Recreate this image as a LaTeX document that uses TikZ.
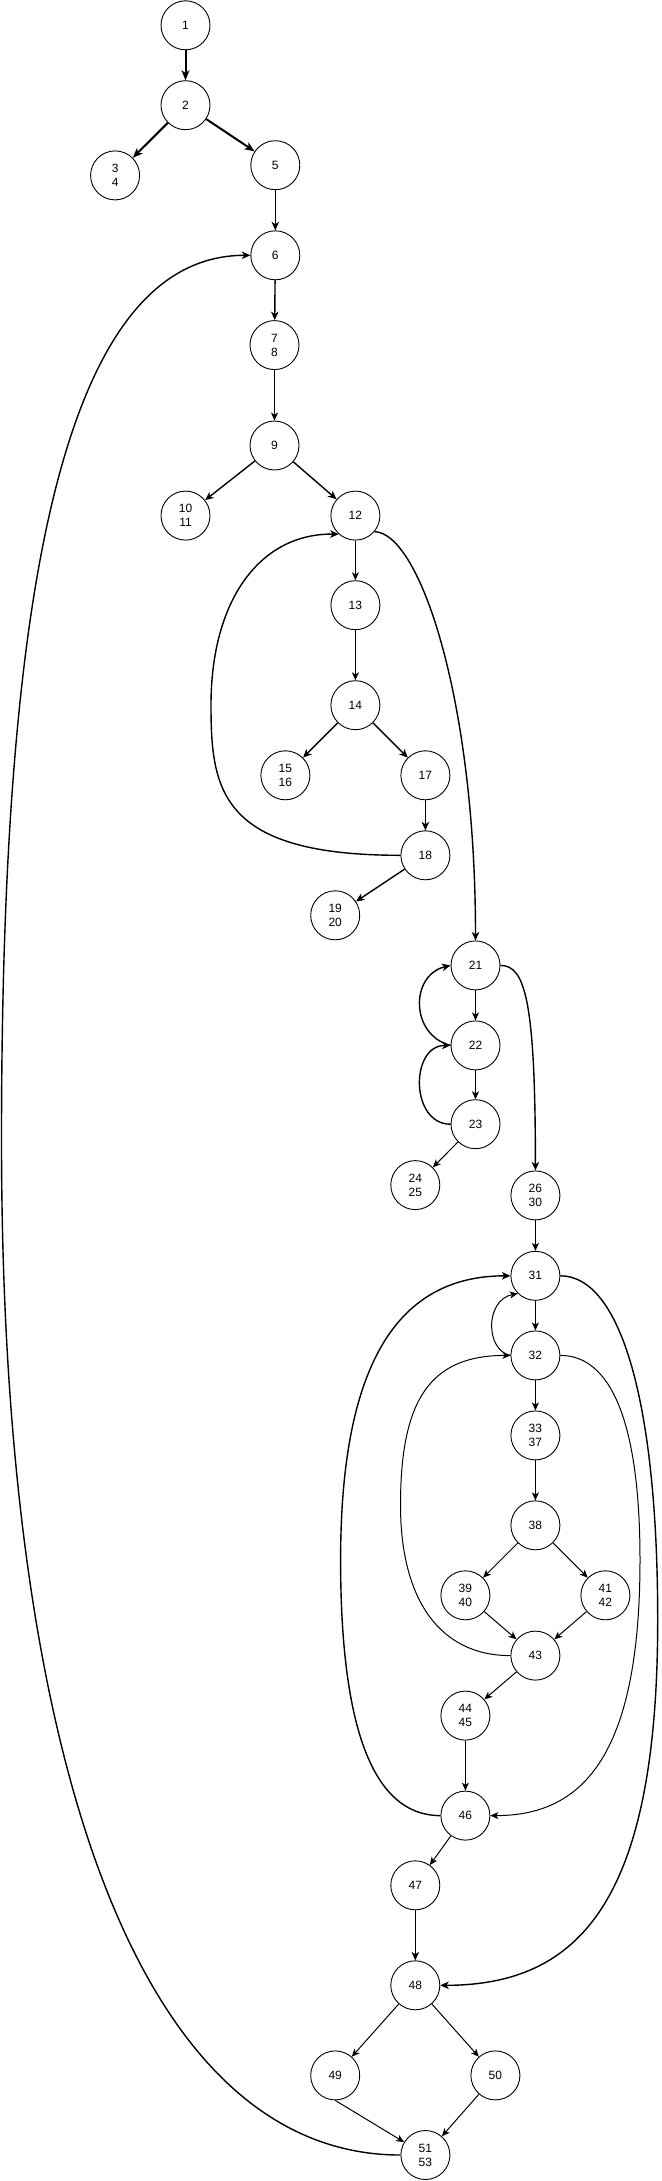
\documentclass[tikz,border=0pt]{standalone}
\usepackage{fontspec}
\setmainfont{Liberation Sans}
\usetikzlibrary{arrows.meta}
\begin{document}
\begin{tikzpicture}[x=1pt,y=-1pt,
  vtx/.style={circle,draw,line width=0.9pt,minimum size=49pt,inner sep=0pt,align=center,font=\fontsize{12}{14}\selectfont},
  arr/.style={-{Stealth[length=8pt,width=7pt,inset=2.2pt]},line width=1pt},
  arrb/.style={-{Stealth[length=8.5pt,width=7.5pt,inset=2.4pt]},line width=1.4pt},
  arrB/.style={-{Stealth[length=10pt,width=8pt,inset=2.8pt]},line width=2pt}]
\useasboundingbox (0,0) rectangle (661,2181);
\node[vtx] (n1) at (185.5,25.3) {1};
\node[vtx] (n2) at (185.5,105.2) {2};
\node[vtx] (n34) at (115.1,175.4) {3\\4};
\node[vtx] (n5) at (275.3,165.2) {5};
\node[vtx] (n6) at (275.3,255.3) {6};
\node[vtx] (n78) at (274.5,345.1) {7\\8};
\node[vtx] (n9) at (274.5,445.5) {9};
\node[vtx] (n1011) at (185.5,515.6) {10\\11};
\node[vtx] (n12) at (355.4,515.6) {12};
\node[vtx] (n13) at (355.4,605.2) {13};
\node[vtx] (n14) at (355.4,705.2) {14};
\node[vtx] (n1516) at (285.4,775.3) {15\\16};
\node[vtx] (n17) at (425.4,775.3) {17};
\node[vtx] (n18) at (425.4,855.3) {18};
\node[vtx] (n1920) at (335.2,915.3) {19\\20};
\node[vtx] (n21) at (475.5,965.4) {21};
\node[vtx] (n22) at (475.5,1045.4) {22};
\node[vtx] (n23) at (475.5,1124.2) {23};
\node[vtx] (n2425) at (415.3,1185.1) {24\\25};
\node[vtx] (n2630) at (535.4,1195.4) {26\\30};
\node[vtx] (n31) at (535.4,1275.8) {31};
\node[vtx] (n32) at (535.4,1355.4) {32};
\node[vtx] (n3337) at (535.4,1435.4) {33\\37};
\node[vtx] (n38) at (535.4,1525.3) {38};
\node[vtx] (n3940) at (465.4,1595.3) {39\\40};
\node[vtx] (n4142) at (605.4,1595.3) {41\\42};
\node[vtx] (n43) at (535.4,1655.6) {43};
\node[vtx] (n4445) at (465.4,1715.6) {44\\45};
\node[vtx] (n46) at (465.4,1815.6) {46};
\node[vtx] (n47) at (415.3,1885.3) {47};
\node[vtx] (n48) at (415.3,1985.3) {48};
\node[vtx] (n49) at (335.2,2075.4) {49};
\node[vtx] (n50) at (495.4,2075.4) {50};
\node[vtx] (n5153) at (425.4,2155.0) {51\\53};
% straight edges
\draw[arrB] (n1) -- (n2);
\draw[arrB] (n2) -- (n34);
\draw[arrB] (n2) -- (n5);
\draw[arrb] (n5) -- (n6);
\draw[arrb] (n6) -- (n78);
\draw[arr] (n78) -- (n9);
\draw[arrb] (n9) -- (n1011);
\draw[arrb] (n9) -- (n12);
\draw[arr] (n12) -- (n13);
\draw[arr] (n13) -- (n14);
\draw[arrb] (n14) -- (n1516);
\draw[arrb] (n14) -- (n17);
\draw[arrb] (n17) -- (n18);
\draw[arrb] (n18) -- (n1920);
\draw[arr] (n21) -- (n22);
\draw[arr] (n22) -- (n23);
\draw[arr] (n23) -- (n2425);
\draw[arr] (n2630) -- (n31);
\draw[arr] (n31) -- (n32);
\draw[arr] (n32) -- (n3337);
\draw[arr] (n3337) -- (n38);
\draw[arr] (n38) -- (n3940);
\draw[arr] (n38) -- (n4142);
\draw[arr] (n3940) -- (n43);
\draw[arr] (n4142) -- (n43);
\draw[arr] (n43) -- (n4445);
\draw[arr] (n4445) -- (n46);
\draw[arr] (n46) -- (n47);
\draw[arrb] (n47) -- (n48);
\draw[arr] (n48) -- (n49);
\draw[arr] (n48) -- (n50);
\draw[arr] (n49.south) -- (n5153);
\draw[arr] (n50) -- (n5153);
% curved edges
\draw[arrb] (n5153.west) .. controls (150,2155) and (1.5,1790) .. (1.5,1140) .. controls (1.5,640) and (50.8,255.3) .. (n6.west);
\draw[arrb] (n18.west) .. controls (220,855.3) and (211,790) .. (211,705) .. controls (211,600) and (260,533.3) .. (n12.-132);
\draw[arrb] (n12.-40) .. controls (420,533) and (475.5,700) .. (n21.north);
\draw[arrb] (n22.west) .. controls (410,1035) and (410,975) .. (n21.west);
\draw[arrb] (n23.west) .. controls (410,1124.2) and (410,1045.4) .. (n22.west);
\draw[arrb] (n21.east) .. controls (525,965.4) and (535.4,1000) .. (n2630.north);
\draw[arr] (n32.west) .. controls (485,1350) and (485,1300) .. (n31.south west);
\draw[arr] (n43.west) .. controls (440,1655.6) and (400.5,1600) .. (400.5,1505) .. controls (400.5,1400) and (430,1355.4) .. (n32.west);
\draw[arrb] (n46.west) .. controls (370,1815.6) and (340.6,1720) .. (340.6,1560) .. controls (340.6,1360) and (400,1275.8) .. (n31.west);
\draw[arr] (n32.east) .. controls (610,1355.4) and (640,1420) .. (640,1560) .. controls (640,1760) and (580,1815.6) .. (n46.east);
\draw[arrb] (n31.east) .. controls (620,1275.8) and (657.7,1400) .. (657.7,1620) .. controls (657.7,1900) and (580,1985.3) .. (n48.east);
\end{tikzpicture}
\end{document}
